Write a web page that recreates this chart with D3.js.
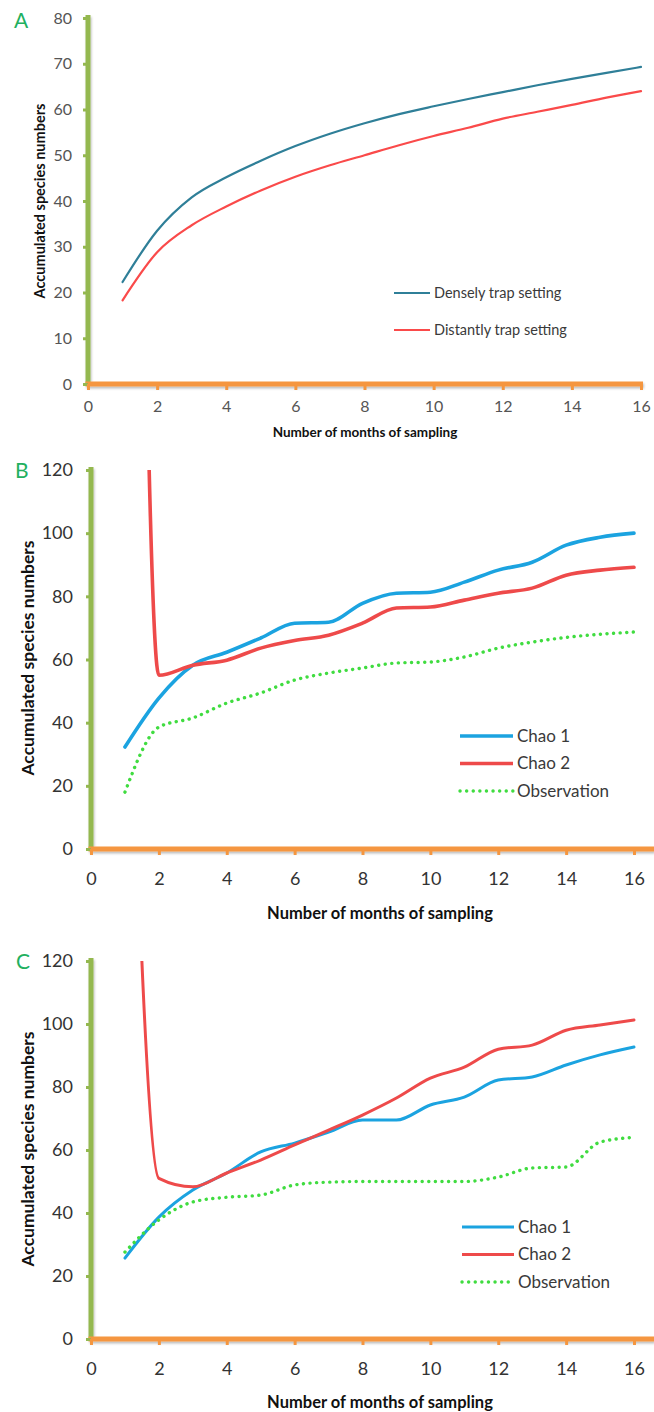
<!DOCTYPE html>
<html>
<head>
<meta charset="utf-8">
<script src="https://cdn.jsdelivr.net/npm/d3@7"></script>
<style>
  html, body { margin: 0; padding: 0; background: #fff; }
  svg { display: block; }
  text { font-family: Lato, "Open Sans", sans-serif; }
</style>
</head>
<body>
<svg id="fig" width="654" height="1412"></svg>
<script>
// Months of sampling (x values shared by all series)
const months = [1, 2, 3, 4, 5, 6, 7, 8, 9, 10, 11, 12, 13, 14, 15, 16];
const xTicks = [0, 2, 4, 6, 8, 10, 12, 14, 16];

// Panel A: accumulated species, two trap settings
const denselyTrap   = [22.3, 33.5, 40.8, 45.2, 48.8, 52, 54.7, 57, 59, 60.7, 62.3, 63.8, 65.3, 66.7, 68, 69.3];
const distantlyTrap = [18.3, 28.8, 34.7, 38.8, 42.3, 45.3, 47.8, 50, 52.2, 54.2, 56, 58, 59.5, 61, 62.6, 64];
const yTicksA = [0, 10, 20, 30, 40, 50, 60, 70, 80];

// Panel B: richness estimators, densely trap setting
const chao1B = [32.3, 47.8, 58.2, 62.3, 66.8, 71.5, 71.8, 77.8, 81, 81.3, 84.5, 88.3, 90.8, 96.2, 98.7, 100];
const chao2B = [640, 55, 58.2, 59.8, 63.6, 66, 67.7, 71.5, 76.3, 76.6, 78.8, 81, 82.6, 86.7, 88.3, 89.2];
const obsB   = [18, 38.6, 41.5, 46.2, 49.4, 53.5, 55.7, 57.3, 58.9, 59.2, 60.8, 63.6, 65.5, 67, 68, 68.7];

// Panel C: richness estimators, distantly trap setting
const chao1C = [25.7, 38.7, 47.3, 52.7, 59.4, 62.2, 65.7, 69.5, 69.5, 74.3, 76.8, 82.2, 83.2, 87, 90.2, 92.7];
const chao2C = [268, 51, 48.3, 52.7, 56.8, 61.6, 66.3, 71.1, 76.5, 82.8, 86.3, 92, 93.3, 98, 99.7, 101.3];
const obsC   = [27.6, 37.8, 43.5, 45, 45.7, 48.9, 49.8, 50, 50, 50, 50, 51.4, 54.3, 54.6, 62.5, 64];
const yTicksBC = [0, 20, 40, 60, 80, 100, 120];

const legendA  = ["Densely trap setting", "Distantly trap setting"];
const legendBC = ["Chao 1", "Chao 2", "Observation"];

const svg = d3.select("#fig");
const defs = svg.append("defs");
const shadow = defs.append("filter").attr("id", "axisShadow")
  .attr("filterUnits", "userSpaceOnUse")
  .attr("x", 0).attr("y", 0).attr("width", 654).attr("height", 1412);
shadow.append("feDropShadow").attr("dx", 1).attr("dy", 2).attr("stdDeviation", 1.2)
  .attr("flood-color", "#000").attr("flood-opacity", 0.25);

const GREEN_AXIS = "#94b84f";
const ORANGE_AXIS = "#f5963f";

function drawPanel(cfg) {
  const x = d3.scaleLinear().domain([0, 16]).range([cfg.x0, cfg.x1]);
  const y = d3.scaleLinear().domain([0, cfg.yMax]).range([cfg.y0, cfg.y1]);
  const g = svg.append("g");

  // clip to plot area
  const clipId = "clip" + cfg.letter;
  defs.append("clipPath").attr("id", clipId).append("rect")
    .attr("x", x(0)).attr("y", y(cfg.yMax))
    .attr("width", cfg.axisEnd - x(0)).attr("height", y(0) - y(cfg.yMax));

  // thick axis bars (with a soft shadow)
  const axes = g.append("g").attr("filter", "url(#axisShadow)");
  axes.append("rect")
    .attr("x", x(0) - 2.5).attr("y", y(cfg.yMax) - 3)
    .attr("width", 5).attr("height", y(0) - y(cfg.yMax) + 3)
    .attr("fill", GREEN_AXIS);
  axes.append("rect")
    .attr("x", x(0) - 2.5).attr("y", y(0) - 2.5)
    .attr("width", cfg.axisEnd - x(0) + 2.5).attr("height", 5)
    .attr("fill", ORANGE_AXIS);

  // y axis: ticks + labels
  const yAxis = d3.axisLeft(y).tickValues(cfg.yTicks).tickSize(5).tickPadding(cfg.yPad).tickSizeOuter(0);
  const gy = g.append("g").attr("transform", `translate(${x(0)},0)`).call(yAxis);
  gy.select(".domain").remove();
  gy.selectAll(".tick line").attr("stroke", GREEN_AXIS).attr("stroke-width", 3);
  gy.selectAll(".tick text").attr("font-size", cfg.tickFont).attr("fill", cfg.tickColor);

  // x axis: ticks + labels
  const xAxis = d3.axisBottom(x).tickValues(xTicks).tickSize(6).tickPadding(cfg.xPad).tickSizeOuter(0);
  const gx = g.append("g").attr("transform", `translate(0,${y(0)})`).call(xAxis);
  gx.select(".domain").remove();
  gx.selectAll(".tick line").attr("stroke", ORANGE_AXIS).attr("stroke-width", 3);
  gx.selectAll(".tick text").attr("font-size", cfg.tickFont).attr("fill", cfg.tickColor);

  // series lines
  const line = d3.line().x((d, i) => x(months[i])).y(d => y(d)).curve(d3.curveMonotoneX);
  const plot = g.append("g").attr("clip-path", `url(#${clipId})`);
  cfg.series.forEach(s => {
    plot.append("path").datum(s.values)
      .attr("d", line)
      .attr("fill", "none")
      .attr("stroke", s.color)
      .attr("stroke-width", s.width)
      .attr("stroke-linecap", "round")
      .attr("stroke-dasharray", s.dash || null);
  });

  // legend
  cfg.series.forEach((s, i) => {
    const ly = cfg.legY + i * cfg.legGap;
    g.append("line").attr("x1", cfg.legX).attr("x2", cfg.legX + cfg.legLen)
      .attr("y1", ly).attr("y2", ly)
      .attr("stroke", s.color).attr("stroke-width", s.width)
      .attr("stroke-linecap", s.dash ? "round" : "butt")
      .attr("stroke-dasharray", s.dash || null);
    g.append("text").attr("x", cfg.legX + cfg.legLen + 4).attr("y", ly)
      .attr("dy", "0.35em").attr("font-size", cfg.legFont).attr("fill", "#3a3a3a")
      .text(s.name);
  });

  // axis titles
  g.append("text").attr("x", cfg.xTitleX).attr("y", cfg.xTitleY)
    .attr("text-anchor", "middle").attr("font-size", cfg.titleFont)
    .attr("font-weight", "bold").attr("fill", "#111")
    .text("Number of months of sampling");
  g.append("text")
    .attr("transform", `translate(${cfg.yTitleX},${cfg.yTitleY}) rotate(-90)`)
    .attr("text-anchor", "middle").attr("font-size", cfg.yTitleFont)
    .attr("font-weight", "bold").attr("fill", "#111")
    .text("Accumulated species numbers");

  // panel letter
  g.append("text").attr("x", cfg.letterX).attr("y", cfg.letterY)
    .attr("font-size", 21).attr("fill", "#22b060")
    .text(cfg.letter);
}

drawPanel({
  letter: "A", letterX: 14, letterY: 28,
  x0: 88, x1: 641, axisEnd: 643, y0: 384, y1: 18, yMax: 80, yTicks: yTicksA,
  yPad: 11, xPad: 11, tickFont: 16, tickColor: "#555",
  titleFont: 13.5, yTitleFont: 14.5,
  xTitleX: 365, xTitleY: 437, yTitleX: 45, yTitleY: 201,
  legX: 394, legLen: 36, legY: 293, legGap: 37, legFont: 14.5,
  series: [
    { name: legendA[0], values: denselyTrap,   color: "#2f7f98", width: 2.2 },
    { name: legendA[1], values: distantlyTrap, color: "#fa4a4a", width: 2.2 }
  ]
});

drawPanel({
  letter: "B", letterX: 15, letterY: 478,
  x0: 91, x1: 634, axisEnd: 654, y0: 849, y1: 470, yMax: 120, yTicks: yTicksBC,
  yPad: 13, xPad: 17, tickFont: 18, tickColor: "#333",
  titleFont: 16.5, yTitleFont: 17.5,
  xTitleX: 380, xTitleY: 919, yTitleX: 34, yTitleY: 658,
  legX: 460, legLen: 53, legY: 736, legGap: 27.5, legFont: 17,
  series: [
    { name: legendBC[0], values: chao1B, color: "#1ba3e0", width: 3.6 },
    { name: legendBC[1], values: chao2B, color: "#ee4a4a", width: 3.6 },
    { name: legendBC[2], values: obsB,   color: "#40dc40", width: 3.4, dash: "0.1,6.5" }
  ]
});

drawPanel({
  letter: "C", letterX: 16, letterY: 969,
  x0: 91, x1: 634, axisEnd: 654, y0: 1339, y1: 961, yMax: 120, yTicks: yTicksBC,
  yPad: 13, xPad: 17, tickFont: 18, tickColor: "#333",
  titleFont: 16.5, yTitleFont: 17.5,
  xTitleX: 380, xTitleY: 1408, yTitleX: 34, yTitleY: 1149,
  legX: 462, legLen: 52, legY: 1227, legGap: 27.5, legFont: 17,
  series: [
    { name: legendBC[0], values: chao1C, color: "#1ba3e0", width: 3 },
    { name: legendBC[1], values: chao2C, color: "#ee4a4a", width: 3 },
    { name: legendBC[2], values: obsC,   color: "#40dc40", width: 3.4, dash: "0.1,6.5" }
  ]
});
</script>
</body>
</html>
